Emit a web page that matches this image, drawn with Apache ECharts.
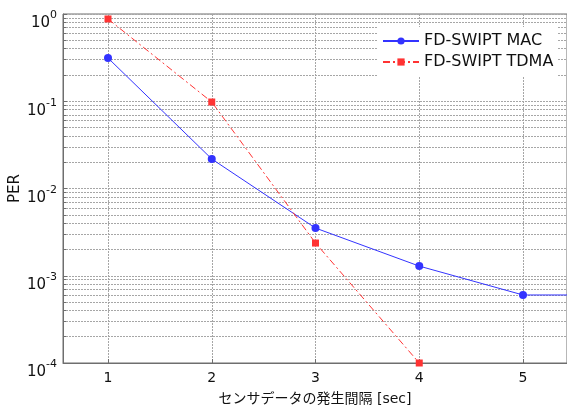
<!DOCTYPE html>
<html>
<head>
<meta charset="utf-8">
<script src="https://cdn.jsdelivr.net/npm/echarts@6/dist/echarts.min.js"></script>
<style>
html,body{margin:0;padding:0;background:#fff;}
#c{width:567px;height:410px;}
</style>
</head>
<body>
<div id="c"></div>
<script>
const xTicks = [1, 2, 3, 4, 5];
const macX = [1, 2, 3, 4, 5, 6];
const macPER = [0.313, 0.0218, 0.00352, 0.00129, 0.000602, 0.000602];
const tdmaX = [1, 2, 3, 4];
const tdmaPER = [0.877, 0.098, 0.00237, 0.0001];
const seriesNames = ['FD-SWIPT MAC', 'FD-SWIPT TDMA'];
const xName = 'センサデータの発生間隔 [sec]';
const yName = 'PER';

const font = 'DejaVu Sans, Verdana, sans-serif';
const gridColor = '#a6a6a6';
const axisColor = '#6e6e6e';
const dotted = [2, 1];

const chart = echarts.init(document.getElementById('c'));
chart.setOption({
  animation: false,
  backgroundColor: '#fff',
  grid: { left: 63, right: 0, top: 14, bottom: 47, show: true, borderColor: axisColor, borderWidth: 1, containLabel: false, outerBoundsMode: 'none' },
  xAxis: {
    type: 'value', min: 0.5663, max: 5.424,
    name: xName, nameLocation: 'middle', nameGap: 29, nameMoveOverlap: false,
    nameTextStyle: { fontFamily: 'DejaVu Sans, Noto Sans CJK JP', fontSize: 14, color: '#111' },
    axisLine: { lineStyle: { color: axisColor } },
    axisTick: { show: true, inside: true, length: 4, customValues: xTicks, lineStyle: { color: axisColor } },
    axisLabel: { customValues: xTicks, color: '#111', fontFamily: font, fontSize: 14, margin: 8 },
    splitLine: { show: true, lineStyle: { color: gridColor, type: dotted, width: 1 } }
  },
  yAxis: {
    type: 'log', logBase: 10, min: 0.0001, max: 1,
    name: yName, nameLocation: 'middle', nameGap: 40, nameMoveOverlap: false,
    nameTextStyle: { fontFamily: font, fontSize: 15, color: '#111' },
    axisLine: { show: true, lineStyle: { color: axisColor } },
    axisTick: { show: true, inside: true, length: 4, lineStyle: { color: axisColor } },
    minorTick: { show: true, splitNumber: 9, length: 3, lineStyle: { color: axisColor } },
    minorSplitLine: { show: true, lineStyle: { color: gridColor, type: dotted, width: 1 } },
    axisLabel: {
      margin: 6,
      padding: [7, 0, 0, 0],
      formatter: v => '{b|10}{s|' + Math.round(Math.log10(v)) + '}',
      rich: {
        b: { fontFamily: font, fontSize: 15, color: '#111', padding: [12, 0, 0, 0] },
        s: { fontFamily: font, fontSize: 11, color: '#111', verticalAlign: 'top', padding: [6, 0, 0, 0] }
      }
    },
    splitLine: { show: true, lineStyle: { color: gridColor, type: dotted, width: 1 } }
  },
  legend: {
    data: seriesNames,
    orient: 'vertical', left: 378, top: 27,
    backgroundColor: '#fff', padding: [6, 4, 6, 4],
    itemWidth: 36, itemHeight: 9, itemGap: 5,
    textStyle: { fontFamily: font, fontSize: 16, color: '#111' }
  },
  series: [
    {
      name: seriesNames[0], type: 'line',
      data: macX.map((x, i) => [x, macPER[i]]),
      symbol: 'circle', symbolSize: 8,
      itemStyle: { color: '#3333ff' },
      lineStyle: { color: '#3333ff', width: 1 },
      clip: true, z: 3
    },
    {
      name: seriesNames[1], type: 'line',
      data: tdmaX.map((x, i) => [x, tdmaPER[i]]),
      symbol: 'rect', symbolSize: 7,
      itemStyle: { color: '#ff3333' },
      lineStyle: { color: '#ff3333', width: 1, type: [7, 3, 2, 3] },
      clip: true, z: 3
    }
  ]
});
</script>
</body>
</html>
